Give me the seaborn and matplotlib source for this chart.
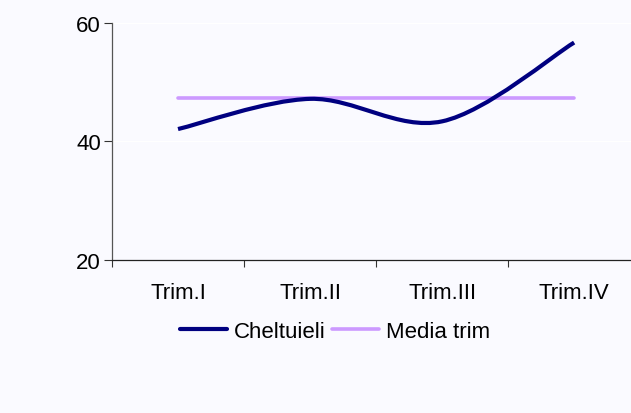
import matplotlib
matplotlib.use("Agg")
import matplotlib.pyplot as plt
import seaborn as sns
import pandas as pd
from matplotlib.path import Path
from matplotlib.patches import PathPatch
from matplotlib.lines import Line2D

sns.set_theme(style="white")
plt.rcParams["font.family"] = ["Liberation Sans", "DejaVu Sans"]
plt.rcParams["text.color"] = "black"
plt.rcParams["xtick.labelcolor"] = "black"
plt.rcParams["ytick.labelcolor"] = "black"

trimestre = ["Trim.I", "Trim.II", "Trim.III", "Trim.IV"]
cheltuieli = [42.1, 47.2, 43.4, 56.7]
media_trim = [47.35, 47.35, 47.35, 47.35]

BG = "#FAFAFF"
NAVY = "#000080"
LILA = "#CC99FF"

df = pd.DataFrame({"x": range(len(trimestre)), "media": media_trim})

fig = plt.figure(figsize=(6.31, 4.14), dpi=100, facecolor=BG)
ax = fig.add_axes([0.1775, 0.3696, 0.837, 0.5724])
ax.set_facecolor(BG)

# media trim - linie orizontala
sns.lineplot(data=df, x="x", y="media", color=LILA, lw=2.6, ax=ax)

# cheltuieli - linie netezita (bezier ca in Excel)
pts = list(zip(range(len(cheltuieli)), cheltuieli))
verts, codes = [pts[0]], [Path.MOVETO]
for i in range(len(pts) - 1):
    p0 = pts[max(i - 1, 0)]
    p1, p2 = pts[i], pts[i + 1]
    p3 = pts[min(i + 2, len(pts) - 1)]
    c1 = (p1[0] + (p2[0] - p0[0]) / 6, p1[1] + (p2[1] - p0[1]) / 6)
    c2 = (p2[0] - (p3[0] - p1[0]) / 6, p2[1] - (p3[1] - p1[1]) / 6)
    verts += [c1, c2, p2]
    codes += [Path.CURVE4] * 3
ax.add_patch(PathPatch(Path(verts, codes), fill=False, edgecolor=NAVY, lw=3.0,
                       capstyle="butt", zorder=3))

ax.set_xlim(-0.5, 3.5)
ax.set_ylim(20, 60)
ax.set_yticks([20, 40, 60])
ax.set_yticklabels(["20", "40", "60"])
ax.set_xticks([-0.5, 0.5, 1.5, 2.5, 3.5])
ax.set_xticklabels([])
ax.set_xticks(range(4), minor=True)
ax.set_xticklabels(trimestre, minor=True)
ax.tick_params(axis="x", which="major", direction="out", length=5, width=0.8,
               color="#333333", bottom=True)
ax.tick_params(axis="x", which="minor", length=0, labelsize=16, pad=16)
ax.tick_params(axis="y", direction="out", length=6, width=0.8, color="#333333",
               left=True, labelsize=16, pad=2)
ax.set_xlabel("")
ax.set_ylabel("")
for g in [40, 60]:
    ax.axhline(g, color="white", lw=1, zorder=0)
for s in ["top", "right"]:
    ax.spines[s].set_visible(False)
ax.spines["left"].set_color("#555555")
ax.spines["bottom"].set_color("#222222")
ax.spines["left"].set_linewidth(0.9)
ax.spines["bottom"].set_linewidth(0.9)

handles = [Line2D([], [], color=NAVY, lw=3.0), Line2D([], [], color=LILA, lw=2.6)]
fig.legend(handles, ["Cheltuieli", "Media trim"], loc="center",
           bbox_to_anchor=(0.531, 0.197), ncol=2, frameon=False, fontsize=16,
           handlelength=2.1, handletextpad=0.3, columnspacing=0.3)

fig.savefig("out.png", dpi=100, facecolor=BG)
